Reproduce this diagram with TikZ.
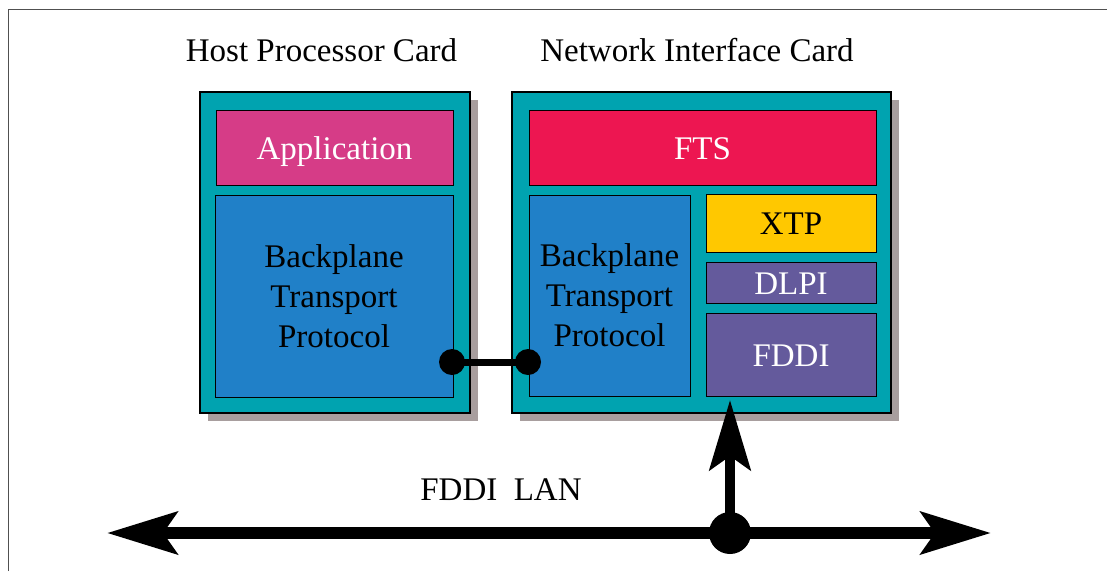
\documentclass[tikz,border=0pt]{standalone}
\usepackage{fontspec}
\setmainfont{Liberation Serif}
\usepackage{tikz}
\usetikzlibrary{arrows.meta,shadows,positioning,calc}

\definecolor{cardteal}{RGB}{0,163,176}
\definecolor{appmagenta}{RGB}{214,60,135}
\definecolor{ftsred}{RGB}{237,22,81}
\definecolor{bpblue}{RGB}{32,128,200}
\definecolor{xtpyellow}{RGB}{255,200,0}
\definecolor{linkpurple}{RGB}{100,90,156}
\definecolor{shadowgray}{RGB}{168,158,158}
\definecolor{framegray}{RGB}{80,80,80}

\newcommand{\cardfont}{\fontsize{33}{40}\selectfont}

\tikzset{
    card/.style = {rectangle, draw=black, line width=1.2pt, fill=cardteal,
                   drop shadow={shadow xshift=8pt, shadow yshift=-8pt,
                                fill=shadowgray, opacity=1}},
    layer/.style = {rectangle, draw=black, line width=1pt, inner sep=0pt,
                    align=center, font=\cardfont},
    oneline/.style = {text height=23pt, text depth=0pt},
    dot/.style = {circle, fill=black, minimum size=26pt, inner sep=0pt},
    bus/.style = {line width=12pt, black}
}

\begin{document}
\begin{tikzpicture}[x=1pt, y=-1pt]
            \useasboundingbox (0,0) rectangle (1107,571);
            % frame of the original figure
            \draw[framegray, line width=1.8pt] (8.5,571) -- (8.5,9.5) -- (1107,9.5);

            % the two cards
            \node[card, minimum width=270pt, minimum height=321pt] (host) at (335,252.5) {};
            \node[card, minimum width=379pt, minimum height=321pt] (nic) at (701.5,252.5) {};
            \node[font=\cardfont] (hosttitle) at (321.5,50) {Host Processor Card};
            \node[font=\cardfont] (nictitle) at (697,50) {Network Interface Card};

            % host processor card
            \node[layer, oneline, fill=appmagenta, text=white, minimum width=237pt, minimum height=75pt]
                (app) at (334.5,147.5) {Application};
            \node[layer, fill=bpblue, minimum width=238pt, minimum height=202pt]
                (bphost) at (334,296) {Backplane\\Transport\\Protocol};

            % network interface card
            \node[layer, oneline, fill=ftsred, text=white, minimum width=347pt, minimum height=75pt]
                (fts) at (702.5,147.5) {FTS};
            \node[layer, fill=bpblue, minimum width=161pt, minimum height=201pt]
                (bpnic) at (609.5,295.5) {Backplane\\Transport\\Protocol};
            \node[layer, oneline, fill=xtpyellow, minimum width=170pt, minimum height=58pt]
                (xtp) at (791,223) {XTP};
            \node[layer, oneline, fill=linkpurple, text=white, minimum width=170pt, minimum height=41pt]
                (dlpi) at (791,282.5) {DLPI};
            \node[layer, oneline, fill=linkpurple, text=white, minimum width=170pt, minimum height=83pt]
                (fddi) at (791,354.5) {FDDI};

            % backplane link
            \node[dot] (hostport) at (452,362) {};
            \node[dot] (nicport) at (528,362) {};
            \draw[line width=7pt] (hostport.center) -- (nicport.center);

            % the LAN
            \coordinate (lanwest) at (107,533);
            \coordinate (laneast) at (991,533);
            \coordinate (feed) at (730,400);
            \node[circle, fill=black, minimum width=40pt, minimum height=42pt, inner sep=0pt]
                (tap) at (730,533) {};
            \draw[bus, {Stealth[length=70pt, width=42pt, inset=14pt]}-{Stealth[length=70pt, width=42pt, inset=14pt]}]
                (lanwest) -- (laneast);
            \draw[line width=10pt, -{Stealth[length=70pt, width=41pt, inset=14pt]}]
                (tap.center) -- (feed);
            \node[font=\cardfont] (lanlabel) at (501,490) {FDDI\ \ LAN};

\end{tikzpicture}
\end{document}
